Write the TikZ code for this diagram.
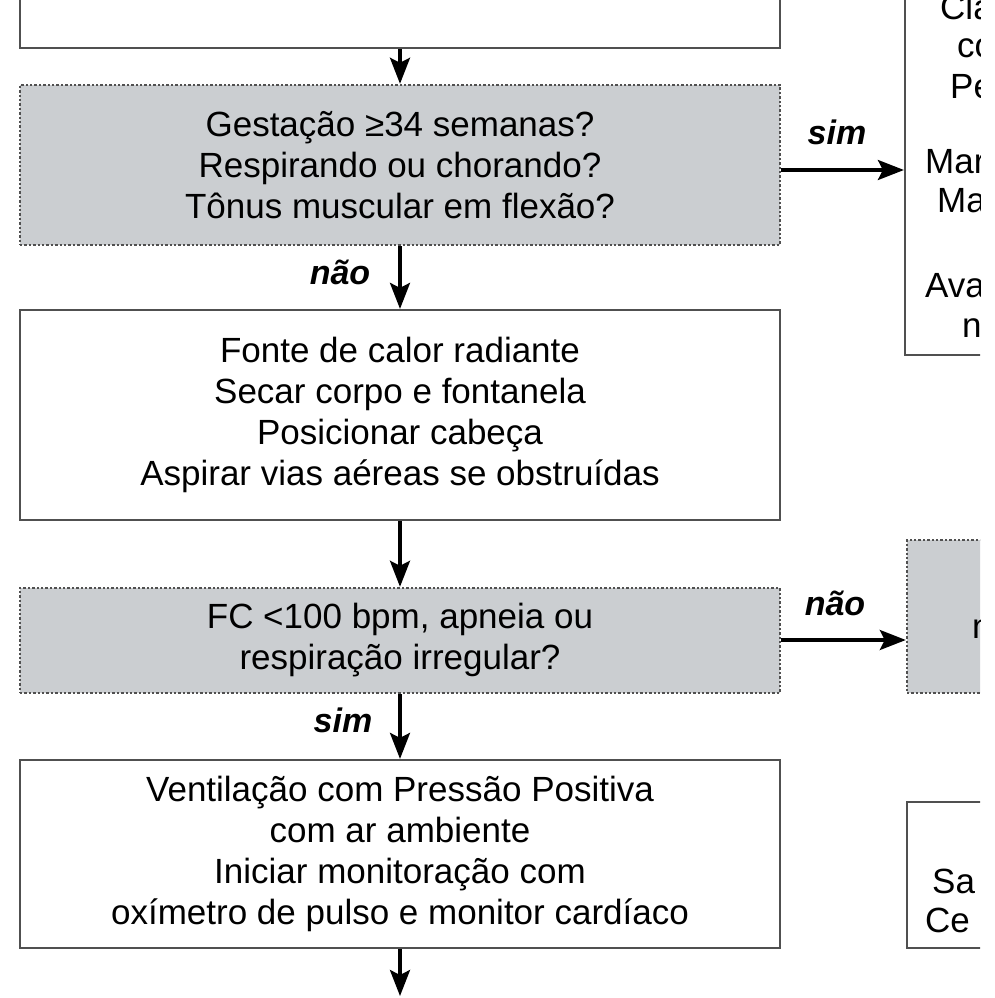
\documentclass[tikz,border=0pt]{standalone}
\usepackage{fontspec}
\setmainfont{Liberation Sans}
\usetikzlibrary{arrows.meta}
\definecolor{boxgray}{HTML}{CBCED1}
\definecolor{edgegray}{HTML}{505050}
\tikzset{
  whitebox/.style={draw=edgegray, line width=2.2pt, fill=white, minimum width=760pt, align=center, font=\fontsize{35}{41}\selectfont, inner sep=0pt},
  graybox/.style={draw=edgegray, dotted, line width=2.4pt, fill=boxgray, minimum width=760pt, align=center, font=\fontsize{35}{41}\selectfont, inner sep=0pt},
  arr/.style={line width=3.4pt, -{Stealth[length=26pt,width=20pt,inset=5pt]}},
  lbl/.style={font=\fontsize{34}{40}\selectfont\bfseries\itshape, inner sep=0pt},
  frag/.style={font=\fontsize{35}{41}\selectfont, inner sep=0pt, anchor=base west}
}
\begin{document}
\begin{tikzpicture}[x=1pt,y=-1pt]
\useasboundingbox (0,0) rectangle (994,998);
\fill[white] (0,0) rectangle (994,998);
\begin{scope}
\clip (0,0) rectangle (980,998);
% left column
\node[whitebox, minimum height=148pt] (top) at (400,-26) {};
\node[graybox, minimum height=160pt] (q1) at (400,165) {Gestação ≥34 semanas?\\Respirando ou chorando?\\Tônus muscular em flexão?};
\node[whitebox, minimum height=210pt] (b2) at (400,415) {Fonte de calor radiante\\Secar corpo e fontanela\\Posicionar cabeça\\Aspirar vias aéreas se obstruídas};
\node[graybox, minimum height=105pt] (q2) at (400,640.5) {FC <100 bpm, apneia ou\\respiração irregular?};
\node[whitebox, minimum height=188pt] (b4) at (400,854) {Ventilação com Pressão Positiva\\com ar ambiente\\Iniciar monitoração com\\oxímetro de pulso e monitor cardíaco};
\coordinate (bottom) at (400,996);
% right column
\node[draw=edgegray, line width=2.2pt, fill=white, minimum width=300pt, minimum height=555pt, inner sep=0pt] (r1) at (1055,77.5) {};
\node[graybox, minimum width=300pt, minimum height=153pt] (r2) at (1057,616.5) {};
\node[draw=edgegray, line width=2.2pt, fill=white, minimum width=300pt, minimum height=146pt, inner sep=0pt] (r3) at (1057,875) {};
% fragments of right-column text
\node[frag] (t1) at (940,20) {Cla};
\node[frag] (t2) at (957,58) {co};
\node[frag] (t3) at (950,98) {Pe};
\node[frag] (t4) at (925,173) {Mar};
\node[frag] (t5) at (937,212) {Ma};
\node[frag] (t6) at (925,297) {Ava};
\node[frag] (t7) at (962,337) {n};
\node[frag] (t8) at (972,638) {n};
\node[frag] (t9) at (932,893) {Sa};
\node[frag] (t10) at (925,932) {Ce};
\end{scope}
% connectors
\draw[arr] (top.south) -- (q1.north);
\draw[arr] (q1.south) -- (b2.north);
\draw[arr] (b2.south) -- (q2.north);
\draw[arr] (q2.south) -- (b4.north);
\draw[arr] (b4.south) -- (bottom);
\draw[arr] (q1.east |- 0,170) coordinate (s1) -- (s1 -| r1.west);
\draw[arr] (q2.east |- 0,640) coordinate (s2) -- (s2 -| r2.west);
% labels
\node[lbl] (l1) at (837,132) {sim};
\node[lbl] (l2) at (340,272) {não};
\node[lbl] (l3) at (835,603) {não};
\node[lbl] (l4) at (343,720) {sim};
\end{tikzpicture}
\end{document}
